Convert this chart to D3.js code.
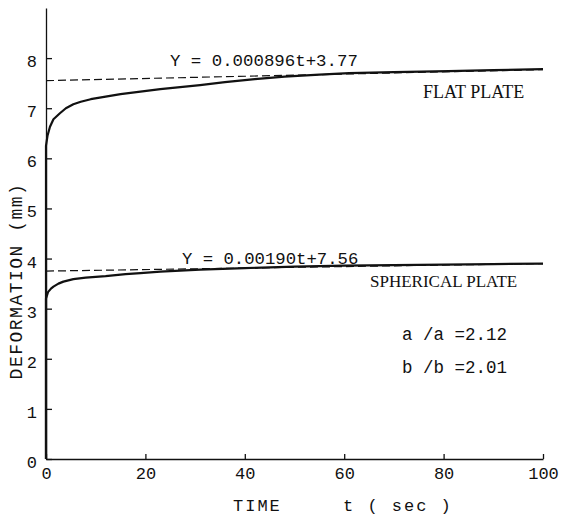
<!DOCTYPE html>
<html>
<head>
<meta charset="utf-8">
<script src="https://cdn.jsdelivr.net/npm/d3@7"></script>
<style>
  body { margin: 0; background: #fff; }
  svg { display: block; }
</style>
</head>
<body>
<svg id="chart" width="561" height="517"></svg>
<script>
// time (sec) and deformation (mm)
const flatTime = [0, 0, 0.3, 0.8, 1.5, 2.8, 4, 5.5, 7, 9, 12, 15, 19, 23, 27, 31, 36, 42, 48, 55, 61, 70, 81, 90, 100];
const flatDef = [0, 6.25, 6.45, 6.63, 6.78, 6.9, 7.0, 7.08, 7.13, 7.18, 7.23, 7.28, 7.33, 7.38, 7.42, 7.46, 7.52, 7.58, 7.63, 7.67, 7.7, 7.72, 7.74, 7.76, 7.78];
const sphTime = [0, 0, 0.4, 1, 1.5, 2.5, 3.5, 5.5, 8, 12, 16, 19, 23, 27, 31, 40, 50, 60, 70, 80, 90, 100];
const sphDef = [0, 3.2, 3.33, 3.4, 3.44, 3.5, 3.54, 3.59, 3.62, 3.65, 3.69, 3.71, 3.74, 3.76, 3.78, 3.81, 3.84, 3.86, 3.87, 3.88, 3.89, 3.9];
// linear fits (dashed)
const fitTime = [0, 100];
const flatFit = [7.55, 7.77];
const sphFit = [3.75, 3.9];

const xTicks = [0, 20, 40, 60, 80, 100];
const yTicks = [0, 1, 2, 3, 4, 5, 6, 7, 8];

const svg = d3.select('#chart');
const mono = 'Liberation Mono, DejaVu Sans Mono, monospace';
const serif = 'Liberation Serif, DejaVu Serif, serif';

const x = d3.scaleLinear().domain([0, 100]).range([46, 543]);
const y = d3.scaleLinear().domain([0, 9]).range([459, 8]);

// axes, ticks pointing inward
const xAxis = svg.append('g')
  .attr('transform', 'translate(0,' + y(0) + ')')
  .call(d3.axisBottom(x).tickValues(xTicks).tickSizeInner(-5).tickSizeOuter(0).tickPadding(8));
const yAxis = svg.append('g')
  .attr('transform', 'translate(' + x(0) + ',0)')
  .call(d3.axisLeft(y).tickValues(yTicks).tickSizeInner(-6).tickSizeOuter(0).tickPadding(9));

[xAxis, yAxis].forEach(function (ax) {
  ax.selectAll('path, line').attr('stroke', '#111').attr('stroke-width', 1.3);
  ax.selectAll('text')
    .style('font-family', mono)
    .style('font-size', '17px')
    .attr('fill', '#111');
});
yAxis.selectAll('text').attr('dy', '0.5em');

let line = d3.line()
  .x(function (d) { return x(d[0]); })
  .y(function (d) { return y(d[1]); });

function drawFit(times, vals) {
  svg.append('path')
    .attr('d', line(times.map(function (t, i) { return [t, vals[i]]; })))
    .attr('fill', 'none')
    .attr('stroke', '#111')
    .attr('stroke-width', 1.2)
    .attr('stroke-dasharray', '8,4');
}
function drawCurve(times, vals) {
  svg.append('path')
    .attr('d', line(times.map(function (t, i) { return [t, vals[i]]; })))
    .attr('fill', 'none')
    .attr('stroke', '#111')
    .attr('stroke-width', 2.2)
    .attr('stroke-linejoin', 'round');
}

drawFit(fitTime, flatFit);
drawFit(fitTime, sphFit);
drawCurve(flatTime, flatDef);
drawCurve(sphTime, sphDef);

// labels
function label(txt, px, py, font, size, extra) {
  let t = svg.append('text')
    .attr('x', px).attr('y', py)
    .attr('fill', '#111')
    .style('font-family', font)
    .style('font-size', size + 'px')
    .style('white-space', 'pre')
    .text(txt);
  if (extra) extra(t);
  return t;
}

label('Y = 0.000896t+3.77', 170, 66, mono, 17.4);
label('FLAT PLATE', 423, 98, serif, 18);
label('Y = 0.00190t+7.56', 182, 264, mono, 17.3);
label('SPHERICAL PLATE', 370, 287, serif, 17);
label('a /a =2.12', 402, 340, mono, 17.5);
label('b /b =2.01', 402, 373, mono, 17.5);

label('TIME', 233, 511, mono, 17, function (t) { t.style('letter-spacing', '2px'); });
label('t ( sec )', 343, 511, mono, 17, function (t) { t.style('letter-spacing', '2px'); });

label('DEFORMATION (mm)', 0, 0, mono, 18, function (t) {
  t.attr('text-anchor', 'middle')
    .style('letter-spacing', '1.5px')
    .attr('transform', 'translate(22,281) rotate(-90)');
});
</script>
</body>
</html>
